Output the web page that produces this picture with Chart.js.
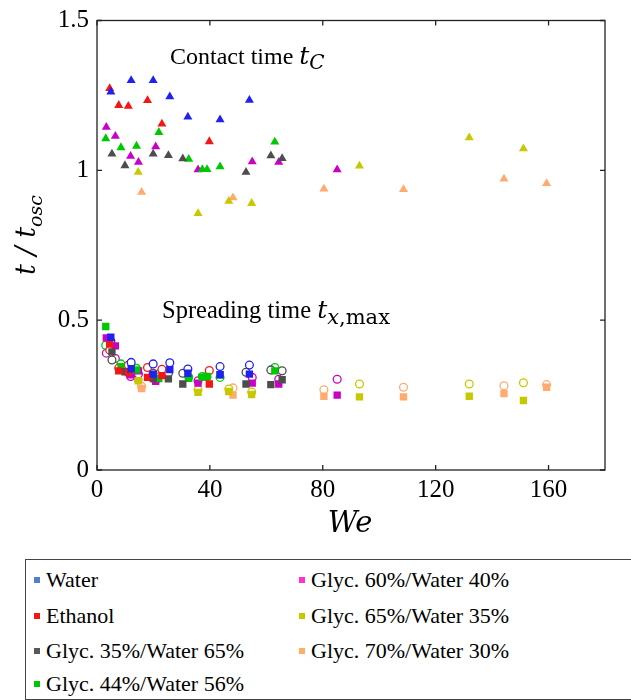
<!DOCTYPE html>
<html>
<head>
<meta charset="utf-8">
<title>t/tosc en fonction de We</title>
<script src="https://cdn.jsdelivr.net/npm/chart.js@4.4.1/dist/chart.umd.min.js"></script>
<style>
  body { margin: 0; background: #fff; }
  #wrap { position: relative; width: 631px; height: 700px; }
  #legende {
    position: absolute; left: 25px; top: 559px; width: 610px; height: 139px;
    border: 1px solid #444; font-family: "Liberation Serif", serif; font-size: 22px; color: #000;
  }
  .item { position: absolute; white-space: nowrap; line-height: 24px; }
  .item span { display: inline-block; width: 6px; height: 6px; margin-right: 6px; vertical-align: 4px; }
</style>
</head>
<body>
<div id="wrap">
  <canvas id="weChart" width="631" height="555"></canvas>
  <div id="legende"></div>
</div>
<script>
// Fluides et couleurs
const fluides = ["Water", "Ethanol", "Glyc. 35%/Water 65%", "Glyc. 44%/Water 56%",
  "Glyc. 60%/Water 40%", "Glyc. 65%/Water 35%", "Glyc. 70%/Water 30%"];
const couleurs = ["#2020f0", "#f41616", "#4d4d4d", "#00c800", "#c800c8", "#c8c800", "#ffaa6e"];
const couleursLegende = ["#4f81c8", "#f41616", "#595959", "#00c800", "#ff33cc", "#c8c800", "#ffae6a"];

const xTicks = [0, 40, 80, 120, 160];
const yTicks = [0, 0.5, 1, 1.5];

// Water
const weWater = [4.9, 12.1, 19.9, 25.8, 32.2, 43.6, 54.0];
const contactWater = [1.262, 1.300, 1.300, 1.246, 1.178, 1.169, 1.234];
const spreadWater = [0.443, 0.338, 0.320, 0.335, 0.323, 0.318, 0.320];
const spreadOpenWater = [0.430, 0.359, 0.354, 0.358, 0.337, 0.345, 0.350];

// Ethanol
const weEthanol = [4.5, 7.7, 11.1, 17.9, 23.0, 39.8];
const contactEthanol = [1.273, 1.217, 1.214, 1.233, 1.155, 1.096];
const spreadEthanol = [0.420, 0.331, 0.325, 0.309, 0.315, 0.287];
const spreadOpenEthanol = [0.400, 0.340, 0.350, 0.342, 0.336, 0.332];

// Glyc. 35%
const weG35 = [5.3, 9.9, 19.9, 25.3, 30.4, 52.8, 61.6, 65.6];
const contactG35 = [1.055, 1.016, 1.055, 1.050, 1.039, 0.994, 1.049, 1.040];
const spreadG35 = [0.394, 0.328, 0.305, 0.304, 0.287, 0.287, 0.285, 0.301];
const spreadOpenG35 = [0.367, 0.340, 0.323, 0.323, 0.323, 0.326, 0.334, 0.331];

// Glyc. 44%
const weG44 = [3.1, 8.5, 14.0, 21.9, 32.5, 37.3, 39.0, 43.6, 63.0];
const contactG44 = [1.106, 1.076, 1.081, 1.127, 1.037, 1.003, 1.003, 1.012, 1.095];
const spreadG44 = [0.479, 0.345, 0.334, 0.305, 0.306, 0.310, 0.312, 0.318, 0.331];
const spreadOpenG44 = [0.416, 0.354, 0.339, 0.321, 0.310, 0.312, 0.312, 0.309, 0.342];

// Glyc. 60%
const weG60 = [3.3, 6.5, 11.9, 14.7, 20.8, 35.8, 55.0, 64.4, 85.1];
const contactG60 = [1.144, 1.114, 1.047, 1.027, 1.079, 1.002, 1.029, 1.027, 1.002];
const spreadG60 = [0.441, 0.414, 0.318, 0.331, 0.296, 0.290, 0.290, 0.287, 0.250];
const spreadOpenG60 = [0.390, 0.372, 0.312, 0.320, 0.299, 0.298, 0.309, 0.303, 0.303];

// Glyc. 65%
const weG65 = [14.6, 35.8, 46.7, 54.8, 93.0, 131.9, 151.1];
const contactG65 = [0.994, 0.856, 0.897, 0.890, 1.015, 1.109, 1.072];
const spreadG65 = [0.298, 0.259, 0.262, 0.252, 0.244, 0.246, 0.232];
const spreadOpenG65 = [0.301, 0.268, 0.270, 0.260, 0.287, 0.287, 0.291];

// Glyc. 70%
const weG70 = [15.8, 48.2, 80.4, 108.6, 144.2, 159.3];
const contactG70 = [0.927, 0.909, 0.938, 0.936, 0.971, 0.956];
const spreadG70 = [0.272, 0.250, 0.246, 0.244, 0.255, 0.276];
const spreadOpenG70 = [0.279, 0.274, 0.268, 0.276, 0.281, 0.285];

const series = [
  [weWater, contactWater, spreadWater, spreadOpenWater],
  [weEthanol, contactEthanol, spreadEthanol, spreadOpenEthanol],
  [weG35, contactG35, spreadG35, spreadOpenG35],
  [weG44, contactG44, spreadG44, spreadOpenG44],
  [weG60, contactG60, spreadG60, spreadOpenG60],
  [weG65, contactG65, spreadG65, spreadOpenG65],
  [weG70, contactG70, spreadG70, spreadOpenG70]
];

const serif = "Liberation Serif";
const mathFont = "DejaVu Serif";

function points(we, val) {
  return we.map((w, i) => ({ x: w, y: val[i] }));
}

// Trois jeux par fluide : temps de contact, temps d'étalement (plein et ouvert)
function buildDatasets() {
  let tri = [], carre = [], rond = [];
  series.forEach((s, k) => {
    let c = couleurs[k];
    tri.push({ label: fluides[k] + " tc", data: points(s[0], s[1]), pointStyle: "triangle",
      pointRadius: 5.2, backgroundColor: c, borderColor: c, borderWidth: 0 });
    carre.push({ label: fluides[k] + " tx", data: points(s[0], s[2]), pointStyle: "rect",
      pointRadius: 5.2, backgroundColor: c, borderColor: c, borderWidth: 0 });
    rond.push({ label: fluides[k] + " tx2", data: points(s[0], s[3]), pointStyle: "circle",
      pointRadius: 3.9, backgroundColor: "#fff", borderColor: c, borderWidth: 1.3 });
  });
  return tri.concat(carre, rond);
}

// Texte avec indice (italique possible)
function drawSub(ctx, x, y, parts) {
  parts.forEach((p) => {
    ctx.font = p.font;
    ctx.fillText(p.t, x, y + (p.dy || 0));
    x += ctx.measureText(p.t).width;
  });
}
function widthSub(ctx, parts) {
  let w = 0;
  parts.forEach((p) => { ctx.font = p.font; w += ctx.measureText(p.t).width; });
  return w;
}

const cadre = {
  id: "cadre",
  afterDraw(chart) {
    const ctx = chart.ctx;
    const a = chart.chartArea;
    const sx = chart.scales.x, sy = chart.scales.y;
    ctx.save();
    ctx.strokeStyle = "#222";
    ctx.lineWidth = 1.3;
    ctx.strokeRect(a.left, a.top, a.right - a.left, a.bottom - a.top);
    ctx.beginPath();
    xTicks.forEach((v) => {
      let px = sx.getPixelForValue(v);
      ctx.moveTo(px, a.bottom); ctx.lineTo(px, a.bottom - 5);
      ctx.moveTo(px, a.top); ctx.lineTo(px, a.top + 5);
    });
    yTicks.forEach((v) => {
      let py = sy.getPixelForValue(v);
      ctx.moveTo(a.left, py); ctx.lineTo(a.left + 5, py);
      ctx.moveTo(a.right, py); ctx.lineTo(a.right - 5, py);
    });
    ctx.stroke();

    ctx.fillStyle = "#000";
    ctx.textBaseline = "alphabetic";
    ctx.textAlign = "left";

    // titre axe x
    ctx.font = "italic 29px '" + mathFont + "'";
    let wWe = ctx.measureText("We").width;
    ctx.fillText("We", 350 - wWe / 2, 532);

    // titre axe y
    let yParts = [
      { t: "t / t", font: "italic 27px '" + mathFont + "'" },
      { t: "osc", font: "italic 19px '" + mathFont + "'", dy: 7 }
    ];
    ctx.save();
    ctx.translate(35, 235);
    ctx.rotate(-Math.PI / 2);
    drawSub(ctx, -widthSub(ctx, yParts) / 2, 0, yParts);
    ctx.restore();

    // annotations
    drawSub(ctx, 170, 64, [
      { t: "Contact time ", font: "24px '" + serif + "'" },
      { t: "t", font: "italic 25px '" + mathFont + "'" },
      { t: "C", font: "italic 20px '" + mathFont + "'", dy: 5 }
    ]);
    drawSub(ctx, 162, 318, [
      { t: "Spreading time ", font: "24.5px '" + serif + "'" },
      { t: "t", font: "italic 25px '" + mathFont + "'" },
      { t: "x", font: "italic 21px '" + mathFont + "'", dy: 6 },
      { t: ",max", font: "21px '" + mathFont + "'", dy: 6 }
    ]);
    ctx.restore();
  }
};

function displayChart(id) {
  const ctx = document.getElementById(id).getContext("2d");
  return new Chart(ctx, {
    type: "scatter",
    data: { datasets: buildDatasets() },
    options: {
      responsive: false,
      animation: false,
      devicePixelRatio: 1,
      layout: { padding: { top: 13, right: 26, left: 0, bottom: 0 } },
      plugins: { legend: { display: false }, tooltip: { enabled: false } },
      scales: {
        x: {
          type: "linear", min: 0, max: 180,
          afterBuildTicks: (s) => { s.ticks = xTicks.map((v) => ({ value: v })); },
          afterFit: (s) => { s.height = 85; },
          ticks: { font: { family: serif, size: 25, lineHeight: 1 }, color: "#000", padding: 8, maxRotation: 0 },
          grid: { display: false, drawTicks: false },
          border: { display: false }
        },
        y: {
          type: "linear", min: 0, max: 1.5,
          afterBuildTicks: (s) => { s.ticks = yTicks.map((v) => ({ value: v })); },
          afterFit: (s) => { s.width = 97; },
          ticks: { font: { family: serif, size: 25, lineHeight: 1 }, color: "#000", padding: 8,
            callback: (v) => String(v) },
          grid: { display: false, drawTicks: false },
          border: { display: false }
        }
      }
    },
    plugins: [cadre]
  });
}

// Légende en deux colonnes sous le graphique
function RemplirLegende() {
  const box = document.getElementById("legende");
  const pos = [[8, 8], [8, 44], [8, 79], [8, 112], [273, 8], [273, 44], [273, 79]];
  fluides.forEach((nom, k) => {
    let div = document.createElement("div");
    div.className = "item";
    div.style.left = pos[k][0] + "px";
    div.style.top = pos[k][1] + "px";
    let sq = document.createElement("span");
    sq.style.background = couleursLegende[k];
    div.appendChild(sq);
    div.appendChild(document.createTextNode(nom));
    box.appendChild(div);
  });
}

RemplirLegende();
displayChart("weChart");
</script>
</body>
</html>
